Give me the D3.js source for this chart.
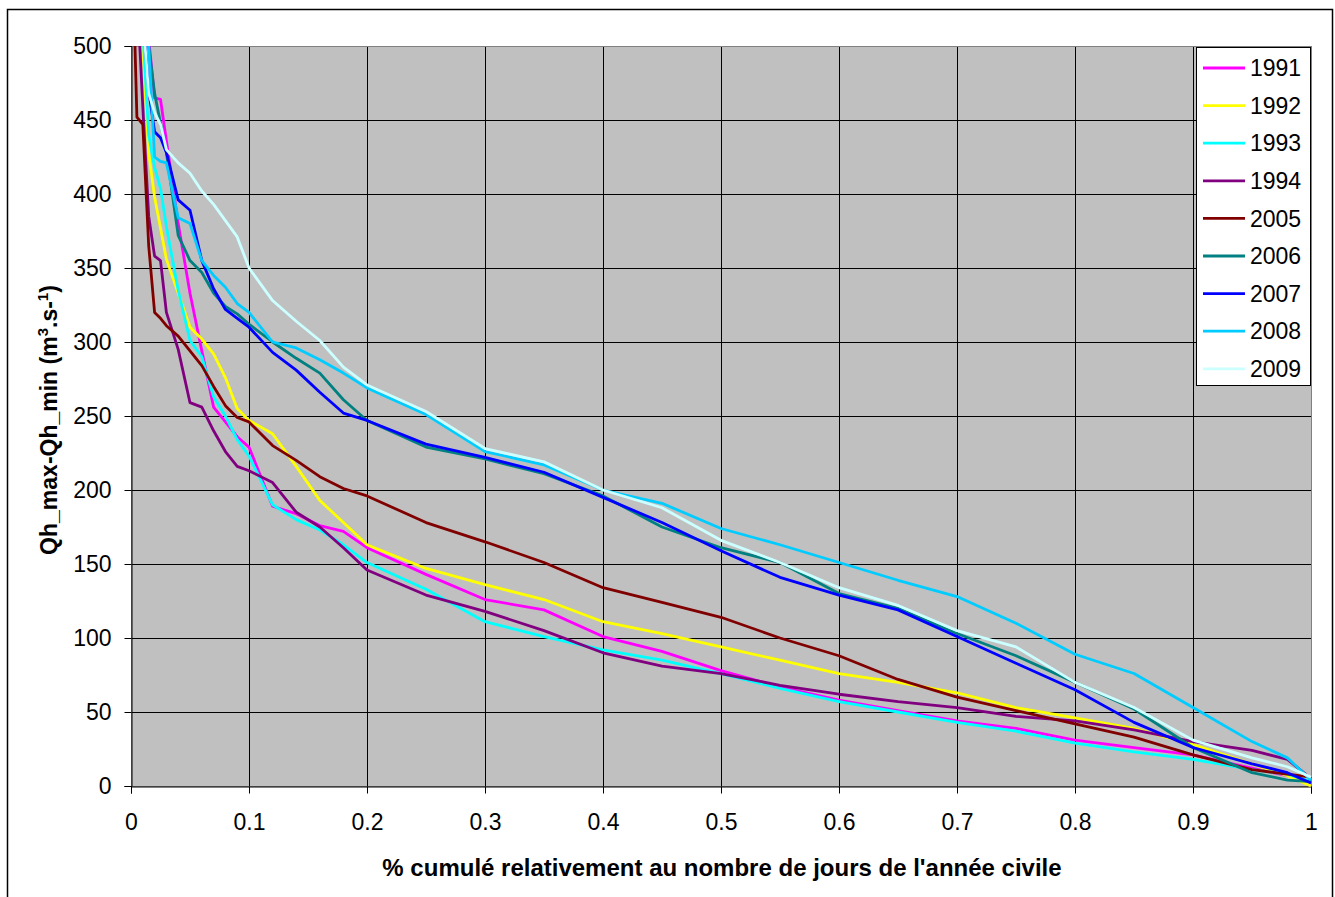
<!DOCTYPE html>
<html><head><meta charset="utf-8">
<script src="https://cdn.jsdelivr.net/npm/d3@7"></script>
<style>
html,body{margin:0;padding:0;background:#fff;}
svg text{font-family:"Liberation Sans",Arial,sans-serif;}
</style></head>
<body>
<svg id="chart" width="1335" height="897"></svg>
<script>
const fractions = [0, 0.005, 0.01, 0.015, 0.02, 0.025, 0.03, 0.04, 0.05, 0.06, 0.07, 0.08, 0.09, 0.1, 0.12, 0.14, 0.16, 0.18, 0.2, 0.25, 0.3, 0.35, 0.4, 0.45, 0.5, 0.55, 0.6, 0.65, 0.7, 0.75, 0.8, 0.85, 0.9, 0.95, 0.98, 1];
const years = ["1991", "1992", "1993", "1994", "2005", "2006", "2007", "2008", "2009"];
const colors = ["#FF00FF", "#FFFF00", "#00FFFF", "#800080", "#800000", "#008080", "#0000FF", "#00CCFF", "#CCFFFF"];
const q1991 = [700, 600, 540, 505, 465, 464, 436, 380, 333, 294, 256, 246, 236, 229, 189, 184, 176, 172, 161, 143, 126, 119, 101, 91, 78, 67, 58, 51, 44, 39, 31, 26, 21, 12, 7, 3];
const q1992 = [700, 560, 500, 428, 398, 377, 356, 333, 310, 302, 292, 276, 255, 247, 238, 216, 193, 178, 163, 147, 136, 126, 111, 103, 94, 85, 76, 70, 63, 53, 46, 39, 28, 15, 7, 0];
const q1993 = [700, 580, 510, 440, 418, 404, 378, 335, 301, 290, 263, 250, 234, 223, 190, 180, 173, 163, 151, 133, 111, 101, 92, 85, 76, 66, 57, 50, 43, 37, 29, 23, 18, 11, 8, 3];
const q1994 = [700, 540, 459, 385, 358, 355, 320, 295, 259, 256, 240, 226, 216, 213, 205, 185, 175, 161, 146, 129, 118, 105, 90, 81, 76, 68, 62, 57, 53, 47, 44, 38, 30, 24, 18, 5];
const q2005 = [600, 452, 447, 365, 320, 316, 311, 304, 294, 284, 270, 257, 249, 246, 230, 220, 209, 201, 196, 178, 165, 151, 134, 124, 114, 100, 88, 72, 60, 51, 42, 33, 21, 11, 8, 6];
const q2006 = [700, 600, 540, 500, 468, 448, 428, 372, 355, 347, 333, 324, 319, 312, 300, 289, 279, 261, 247, 229, 221, 211, 196, 175, 161, 151, 130, 120, 103, 88, 70, 52, 26, 9, 4, 3];
const q2007 = [700, 580, 520, 470, 442, 438, 428, 396, 389, 355, 336, 322, 316, 310, 293, 281, 266, 252, 247, 231, 222, 212, 195, 178, 159, 141, 129, 119, 101, 83, 65, 43, 26, 15, 9, 2];
const q2008 = [700, 560, 520, 500, 425, 422, 421, 384, 380, 355, 345, 337, 326, 320, 300, 296, 288, 279, 269, 251, 226, 217, 200, 191, 174, 163, 151, 139, 128, 110, 89, 76, 53, 30, 19, 4];
const q2009 = [700, 600, 520, 468, 455, 447, 430, 421, 414, 402, 393, 382, 371, 350, 328, 314, 301, 283, 271, 253, 228, 219, 200, 188, 166, 151, 134, 122, 105, 94, 70, 53, 31, 19, 13, 6];
const seriesValues = [q1991, q1992, q1993, q1994, q2005, q2006, q2007, q2008, q2009];
const xTicks = [0, 0.1, 0.2, 0.3, 0.4, 0.5, 0.6, 0.7, 0.8, 0.9, 1];
const yTicks = [0, 50, 100, 150, 200, 250, 300, 350, 400, 450, 500];

const FS = 23;
const svg = d3.select("#chart");
const L = 131, R = 1311, T = 46, B = 786;
const x = d3.scaleLinear().domain([0, 1]).range([L, R]);
const y = d3.scaleLinear().domain([0, 500]).range([B, T]);

// outer frame
svg.append("rect").attr("x", 7.5).attr("y", 9.5).attr("width", 1325).attr("height", 905)
  .attr("fill", "#fff").attr("stroke", "#000").attr("stroke-width", 1.5);

// plot background
svg.append("rect").attr("x", L).attr("y", T).attr("width", R - L).attr("height", B - T)
  .attr("fill", "#C0C0C0");

// grid
svg.append("g").selectAll("line").data(yTicks).join("line")
  .attr("x1", L).attr("x2", R).attr("y1", d => y(d) + 0.5).attr("y2", d => y(d) + 0.5)
  .attr("stroke", "#000").attr("stroke-width", 1);
svg.append("g").selectAll("line").data(xTicks).join("line")
  .attr("y1", T).attr("y2", B).attr("x1", d => x(d) + 0.5).attr("x2", d => x(d) + 0.5)
  .attr("stroke", "#000").attr("stroke-width", 1);

// plot border
svg.append("rect").attr("x", L + 0.5).attr("y", T + 0.5).attr("width", R - L).attr("height", B - T)
  .attr("fill", "none").attr("stroke", "#808080").attr("stroke-width", 1);

// axes
const yAxis = d3.axisLeft(y).tickValues(yTicks).tickSize(7).tickPadding(13).tickFormat(d3.format("d"));
const gy = svg.append("g").attr("transform", `translate(${L + 0.5},0)`).call(yAxis);
gy.select(".domain").attr("stroke", "#000");
gy.selectAll("text").attr("font-size", FS).attr("fill", "#000").attr("font-family", "Liberation Sans, Arial, sans-serif");

const xAxis = d3.axisBottom(x).tickValues(xTicks).tickSize(7).tickPadding(20).tickFormat(d => d === 0 ? "0" : d === 1 ? "1" : d3.format(".1f")(d));
const gx = svg.append("g").attr("transform", `translate(0,${B + 0.5})`).call(xAxis);
gx.select(".domain").attr("stroke", "#000");
gx.selectAll("text").attr("font-size", FS).attr("fill", "#000").attr("font-family", "Liberation Sans, Arial, sans-serif");

// clip
svg.append("clipPath").attr("id", "clip").append("rect")
  .attr("x", L).attr("y", T).attr("width", R - L + 2).attr("height", B - T + 2);

const line = d3.line().x(d => x(d[0])).y(d => y(d[1]));
const gLines = svg.append("g").attr("clip-path", "url(#clip)");
seriesValues.forEach((vals, i) => {
  const pts = fractions.map((f, j) => [f, vals[j]]);
  gLines.append("path").datum(pts).attr("d", line)
    .attr("fill", "none").attr("stroke", colors[i]).attr("stroke-width", 2.8)
    .attr("stroke-linejoin", "round");
});

// legend
const lg = svg.append("g");
lg.append("rect").attr("x", 1196.5).attr("y", 47.5).attr("width", 114).attr("height", 338)
  .attr("fill", "#fff").attr("stroke", "#000").attr("stroke-width", 1);
years.forEach((yr, i) => {
  const cy = 68 + i * 37.6;
  lg.append("line").attr("x1", 1203).attr("x2", 1245).attr("y1", cy).attr("y2", cy)
    .attr("stroke", colors[i]).attr("stroke-width", 2.8);
  lg.append("text").attr("x", 1250).attr("y", cy).attr("dy", "0.36em")
    .attr("font-size", FS).attr("fill", "#000").text(yr);
});

// axis titles
svg.append("text").attr("x", 722).attr("y", 876).attr("text-anchor", "middle")
  .attr("font-size", 24).attr("font-weight", "bold").attr("fill", "#000")
  .text("% cumulé relativement au nombre de jours de l'année civile");

const yt = svg.append("text").attr("transform", "translate(57,420) rotate(-90)")
  .attr("text-anchor", "middle").attr("font-size", 23).attr("font-weight", "bold").attr("fill", "#000");
yt.append("tspan").text("Qh_max-Qh_min (m");
yt.append("tspan").attr("font-size", 15).attr("dy", -9).text("3");
yt.append("tspan").attr("dy", 9).text(".s-");
yt.append("tspan").attr("font-size", 15).attr("dy", -9).text("1");
yt.append("tspan").attr("dy", 9).text(")");
</script>
</body></html>
